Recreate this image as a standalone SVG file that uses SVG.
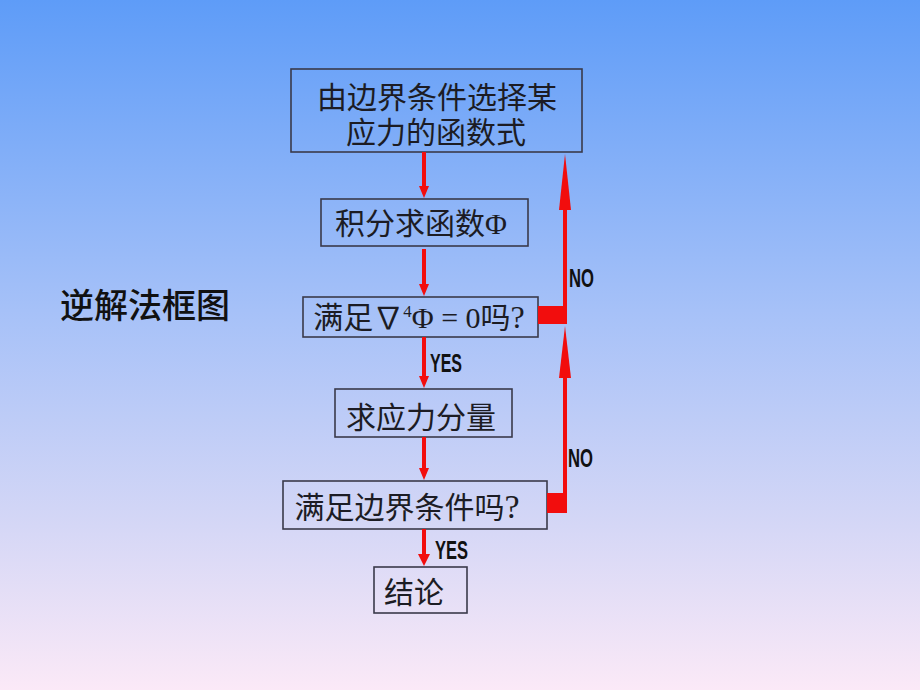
<svg xmlns="http://www.w3.org/2000/svg" width="920" height="690" viewBox="0 0 920 690">
<defs>
<linearGradient id="bg" x1="0" y1="0" x2="0" y2="1">
<stop offset="0" stop-color="#5e9cf8"/>
<stop offset="0.45" stop-color="#a6c1f8"/>
<stop offset="0.75" stop-color="#d3d6f6"/>
<stop offset="1" stop-color="#fbe9f7"/>
</linearGradient>
<style>
.box{fill:none;stroke:#3a3a4a;stroke-width:1.6}
.t{font-family:"Liberation Serif","Noto Sans CJK SC",serif;font-size:30px;fill:#1c1c24;text-anchor:middle}
.title{font-family:"Noto Sans CJK SC",sans-serif;font-size:34px;font-weight:500;fill:#111}
.lbl{font-family:"Liberation Sans Narrow","Liberation Sans",sans-serif;font-weight:bold;font-size:26px;fill:#111}
.ln{stroke:#f20d0d;stroke-width:4;fill:none}
.hd{fill:#f20d0d}
</style>
</defs>
<rect x="0" y="0" width="920" height="690" fill="url(#bg)"/>
<text class="title" x="60" y="318">逆解法框图</text>
<g id="n1">
<rect class="box" x="291" y="69" width="291" height="83"/>
<text class="t" x="437" y="108">由边界条件选择某</text>
<text class="t" x="436" y="143">应力的函数式</text>
</g>
<g id="n2">
<rect class="box" x="321" y="199" width="207" height="47"/>
<text class="t" x="421" y="234">积分求函数Φ</text>
</g>
<g id="n3">
<rect class="box" x="303" y="297" width="235" height="40"/>
<text class="t" x="419" y="328">满足∇<tspan font-size="17" dy="-11">4</tspan><tspan dy="11">Φ = 0吗<tspan font-size="32">?</tspan></tspan></text>
</g>
<g id="n4">
<rect class="box" x="335" y="389" width="177" height="48"/>
<text class="t" x="421" y="428">求应力分量</text>
</g>
<g id="n5">
<rect class="box" x="283" y="481" width="264" height="48"/>
<text class="t" x="407" y="518">满足边界条件吗<tspan font-size="34">?</tspan></text>
</g>
<g id="n6">
<rect class="box" x="374" y="567" width="93" height="46"/>
<text class="t" x="414" y="603">结论</text>
</g>
<g id="connectors">
<line class="ln" x1="424" y1="152" x2="424" y2="187"/>
<polygon class="hd" points="419,186 429,186 424,198"/>
<line class="ln" x1="424" y1="249" x2="424" y2="285"/>
<polygon class="hd" points="419,284 429,284 424,296"/>
<line class="ln" x1="424" y1="337" x2="424" y2="377"/>
<polygon class="hd" points="419,376 429,376 424,388"/>
<line class="ln" x1="424" y1="437" x2="424" y2="469"/>
<polygon class="hd" points="419,468 429,468 424,480"/>
<line class="ln" x1="424" y1="529" x2="424" y2="555" stroke-width="5"/>
<polygon class="hd" points="418,554 430,554 424,566"/>
<rect class="hd" x="538" y="306" width="27" height="18"/>
<line class="ln" x1="565" y1="324" x2="565" y2="208" stroke-width="3"/>
<polygon class="hd" points="559,210 571,210 565,154"/>
<rect class="hd" x="547" y="493" width="20" height="20"/>
<line class="ln" x1="565" y1="513" x2="565" y2="376" stroke-width="3"/>
<polygon class="hd" points="559,378 571,378 565,326"/>
</g>
<text class="lbl" x="569" y="287" textLength="25" lengthAdjust="spacingAndGlyphs">NO</text>
<text class="lbl" x="568" y="467" textLength="25" lengthAdjust="spacingAndGlyphs">NO</text>
<text class="lbl" x="430" y="372" textLength="32" lengthAdjust="spacingAndGlyphs">YES</text>
<text class="lbl" x="435" y="559" textLength="33" lengthAdjust="spacingAndGlyphs">YES</text>
</svg>
